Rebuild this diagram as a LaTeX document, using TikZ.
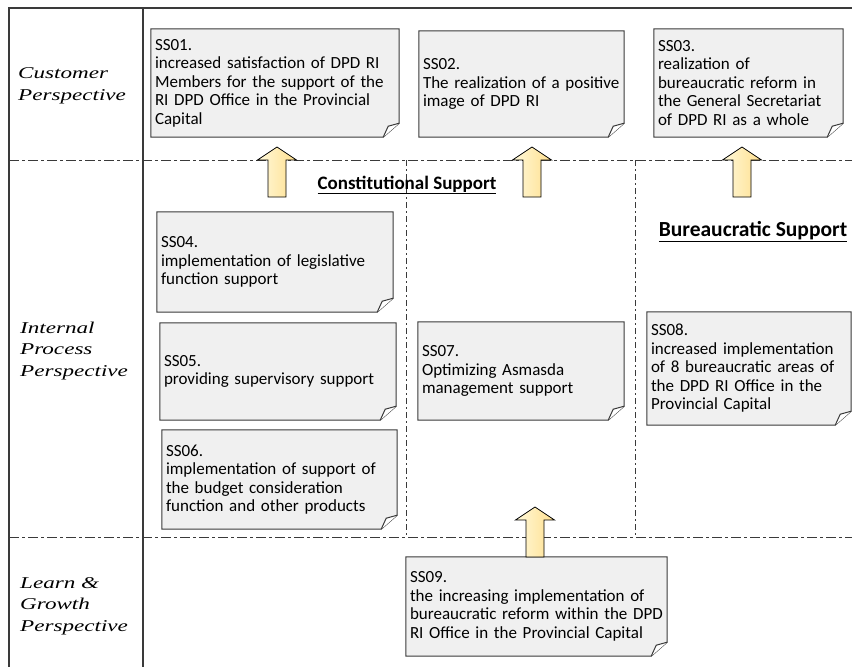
\documentclass[tikz,border=0pt]{standalone}
\usepackage{fontspec}
\newfontfamily\notefont{Carlito}
\newfontfamily\perspfont[FakeStretch=1.4]{Liberation Serif}
\usetikzlibrary{backgrounds}

\definecolor{notegray}{HTML}{F0F0F0}
\definecolor{framegray}{HTML}{3A3A3A}
\definecolor{arrowlight}{HTML}{FFF9DA}
\definecolor{arrowdark}{HTML}{FFDF8E}

\tikzset{note/.style={inner xsep=4pt,inner ysep=2pt,align=left,font=\notefont\fontsize{17}{18.5}\selectfont}}
\tikzset{noteline/.style={draw=framegray,line width=1pt,fill=notegray,line join=miter}}
\tikzset{frame/.style={draw=framegray,line width=1.3pt}}
\tikzset{lane/.style={draw=framegray,line width=0.9pt,dash pattern=on 10pt off 3pt on 3pt off 3pt}}
\tikzset{column/.style={draw=framegray,line width=0.8pt,dash pattern=on 6pt off 3pt on 2pt off 3pt}}
\tikzset{persp/.style={align=left,anchor=west,inner sep=0pt,font=\perspfont\itshape\fontsize{16.5}{21.5}\selectfont}}
\tikzset{heading/.style={anchor=base,inner sep=0pt,font=\notefont\bfseries\fontsize{19}{22}\selectfont}}
\tikzset{uparrow/.style={draw=black,line width=0.8pt,left color=arrowlight,right color=arrowdark}}

\begin{document}
\begin{tikzpicture}[x=1pt,y=-1pt]
    \useasboundingbox (0,0) rectangle (852,667);
    % frame and lanes
    \draw[frame] (9,667) -- (9,8) -- (852,8);
    \draw[frame] (143,8) -- (143,667);
    \draw[lane] (9,160) -- (852,160);
    \draw[lane] (9,537) -- (852,537);
    \draw[column] (406,160) -- (406,537);
    \draw[column] (635,160) -- (635,537);

    \node[persp] (customer) at (18,86)  {Customer\\Perspective};
    \node[persp] (internal) at (20,351) {Internal\\Process\\Perspective};
    \node[persp] (learn)    at (20,606) {Learn \&\\Growth\\Perspective};

    \node[heading] (constit) at (407,189) {\underline{Constitutional Support}};
    \node[heading,font=\notefont\bfseries\fontsize{21.5}{24}\selectfont] (bureau) at (753,236)
      {\underline{Bureaucratic Support}};

    % customer perspective
    \node[note,text width=240pt,minimum height=108pt] (ss01) at (275,83)
      {SS01.\\increased satisfaction of DPD RI\\Members for the support of the\\RI DPD Office in the Provincial\\Capital};
    \node[note,text width=197pt,minimum height=106pt] (ss02) at (521.5,84)
      {SS02.\\The realization of a positive\\image of DPD RI};
    \node[note,text width=181pt,minimum height=108pt] (ss03) at (748.5,83)
      {SS03.\\realization of\\bureaucratic reform in\\the General Secretariat\\of DPD RI as a whole};
    % internal process perspective
    \node[note,text width=228pt,minimum height=100pt] (ss04) at (275,262)
      {SS04.\\implementation of legislative\\function support};
    \node[note,text width=228pt,minimum height=97pt] (ss05) at (278,371.5)
      {SS05.\\providing supervisory support};
    \node[note,text width=227pt,minimum height=99pt] (ss06) at (279.5,479.5)
      {SS06.\\implementation of support of\\the budget consideration\\function and other products};
    \node[note,text width=198pt,minimum height=98pt] (ss07) at (521,371)
      {SS07.\\Optimizing Asmasda\\management support};
    \node[note,text width=196pt,minimum height=113pt] (ss08) at (749,368.5)
      {SS08.\\increased implementation\\of 8 bureaucratic areas of\\the DPD RI Office in the\\Provincial Capital};
    % learn and growth perspective
    \node[note,text width=253pt,minimum height=99pt] (ss09) at (536.5,606.5)
      {SS09.\\the increasing implementation of\\bureaucratic reform within the DPD\\RI Office in the Provincial Capital};

    \begin{scope}[on background layer]
      \foreach \n in {ss01,ss02,ss03,ss04,ss05,ss06,ss07,ss08,ss09} {
        \draw[noteline] (\n.north west) -- (\n.north east) -- ([yshift=14pt]\n.south east)
          -- ([xshift=-16pt]\n.south east) -- (\n.south west) -- cycle;
        \draw[noteline,fill=white] ([yshift=14pt]\n.south east) -- ([shift={(-11pt,11pt)}]\n.south east)
          -- ([xshift=-16pt]\n.south east);
      }
    \end{scope}

    % block arrows
    \foreach \ax/\ay in {277/197,532/197,742/197,535/557}
      \draw[uparrow] (\ax-9,\ay) -- ++(18,0) -- ++(0,-37) -- ++(10.5,0)
        -- ++(-19.5,-13) -- ++(-19.5,13) -- ++(10.5,0) -- cycle;
  \end{tikzpicture}
\end{document}
